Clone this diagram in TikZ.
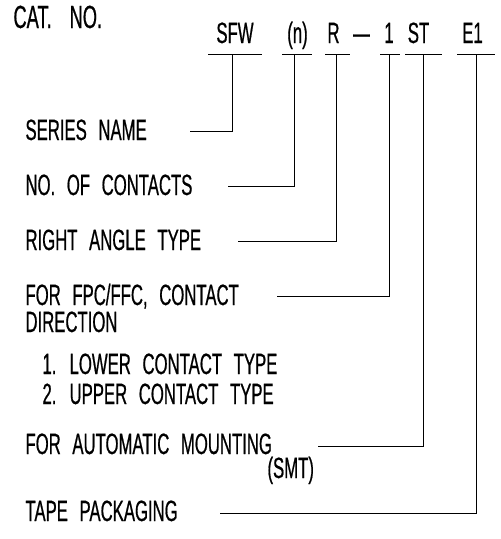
\documentclass[tikz,border=0pt]{standalone}
\usepackage{fontspec}
\setmainfont{Liberation Sans}[FakeStretch=0.57,WordSpace=2.5,FakeBold=0.6]

\tikzset{every picture/.style={line width=0.75pt}}
\tikzset{
  lbl/.style={anchor=base west,inner sep=0pt,font=\fontsize{22}{26}\selectfont},
  code/.style={anchor=base,inner sep=0pt,font=\fontsize{22}{26}\selectfont},
  lead/.style={line width=0.75pt}
}

\begin{document}
\begin{tikzpicture}[x=0.75pt,y=0.75pt,yscale=-1,xscale=1]
\useasboundingbox (0,0) rectangle (500,539);

% Text Node
\draw (13,28) node (catno) [lbl,font=\fontsize{24}{28}\selectfont] {CAT.\hspace{4pt} NO.};

% Text Node
\draw (235,43) node (sfw) [code] {SFW};
\draw (297.5,43) node (cnt) [code] {(n)};
\draw (333.5,43) node (ra) [code] {R};
\draw (361.5,43) node (dash) [code] {---};
\draw (389,43) node (dir) [code] {1};
\draw (418.5,43) node (smt) [code] {ST};
\draw (472.5,43) node (tape) [code] {E1};

%Straight Lines (underlines)
\draw (208,54) -- (262,54);
\draw (282,54) -- (312,54);
\draw (325,54) -- (350,54);
\draw (380,54) -- (400,54);
\draw (405,54) -- (442,54);
\draw (457,54) -- (495,54);

% Text Node
\draw (25,140) node (series) [lbl] {SERIES NAME};
\draw (25,195) node (contacts) [lbl] {NO. OF CONTACTS};
\draw (25,250) node (angle) [lbl] {RIGHT ANGLE TYPE};
\draw (25,305) node (fpc) [lbl] {FOR FPC/FFC, CONTACT};
\draw (25,332) node (direction) [lbl] {DIRECTION};
\draw (42,374) node (lower) [lbl] {1. LOWER CONTACT TYPE};
\draw (42,404) node (upper) [lbl] {2. UPPER CONTACT TYPE};
\draw (25,454) node (mount) [lbl] {FOR AUTOMATIC MOUNTING};
\draw (267,478) node (smtnote) [lbl] {(SMT)};
\draw (25,521) node (packing) [lbl] {TAPE PACKAGING};

% leader ends
\coordinate (uSFW) at (232,54);
\coordinate (uCnt) at (294,54);
\coordinate (uRa) at (336,54);
\coordinate (uDir) at (389,54);
\coordinate (uSmt) at (423,54);
\coordinate (uTape) at (476,54);
\coordinate (lSeries) at (190,131);
\coordinate (lContacts) at (228,186);
\coordinate (lAngle) at (238,241);
\coordinate (lFpc) at (277,296);
\coordinate (lMount) at (318,446);
\coordinate (lPacking) at (220,513);

%Straight Lines (leaders)
\draw [lead] (lSeries) -| (uSFW);
\draw [lead] (lContacts) -| (uCnt);
\draw [lead] (lAngle) -| (uRa);
\draw [lead] (lFpc) -| (uDir);
\draw [lead] (lMount) -| (uSmt);
\draw [lead] (lPacking) -| (uTape);

\end{tikzpicture}
\end{document}
